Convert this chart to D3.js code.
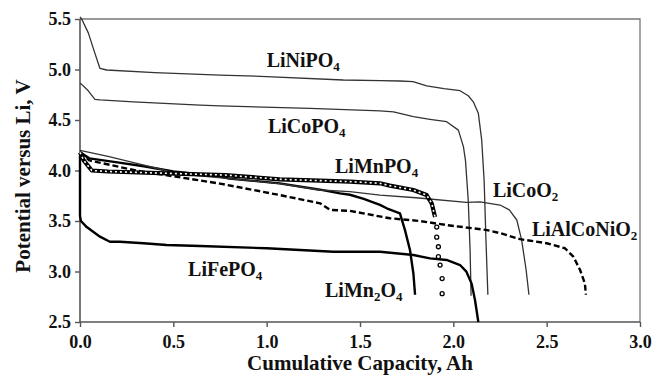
<!DOCTYPE html>
<html>
<head>
<meta charset="utf-8">
<script src="https://cdn.jsdelivr.net/npm/d3@7"></script>
<style>
  body { margin: 0; background: #fff; }
  svg { font-family: 'Liberation Serif', 'Times New Roman', serif; font-weight: bold; }
</style>
</head>
<body>
<div id="chart"></div>
<script>
// discharge curves, capacity (Ah) vs potential (V)
const liNiPO4X = [0, 0.009, 0.045, 0.08, 0.107, 0.143, 0.4, 0.75, 1.0, 1.41, 1.607, 1.714, 1.784, 1.857, 1.95, 2.036, 2.08, 2.107, 2.134, 2.152, 2.165, 2.175, 2.185];
const liNiPO4V = [5.52, 5.5, 5.36, 5.16, 5.01, 4.995, 4.97, 4.945, 4.93, 4.896, 4.89, 4.886, 4.88, 4.837, 4.81, 4.79, 4.74, 4.68, 4.566, 4.30, 3.9, 3.3, 2.77];

const liCoPO4X = [0, 0.005, 0.039, 0.08, 0.107, 0.286, 0.643, 0.75, 1.232, 1.607, 1.68, 1.786, 1.875, 1.964, 2.027, 2.054, 2.065, 2.08, 2.09, 2.095];
const liCoPO4V = [4.86, 4.86, 4.80, 4.705, 4.70, 4.68, 4.648, 4.64, 4.616, 4.59, 4.58, 4.533, 4.507, 4.483, 4.40, 4.236, 4.1, 3.7, 3.2, 2.76];

const liCoO2X = [0, 0.15, 0.26, 0.46, 0.51, 0.8, 1.07, 1.286, 1.446, 1.607, 1.8, 2.07, 2.143, 2.25, 2.30, 2.34, 2.366, 2.39, 2.405];
const liCoO2V = [4.2, 4.14, 4.09, 4.0, 3.97, 3.92, 3.87, 3.807, 3.79, 3.757, 3.73, 3.685, 3.69, 3.658, 3.61, 3.51, 3.31, 3.015, 2.77];

const liMn2O4X = [0, 0.05, 0.2, 0.35, 0.5, 0.75, 0.8, 1.07, 1.286, 1.393, 1.446, 1.52, 1.607, 1.643, 1.714, 1.741, 1.768, 1.786, 1.795];
const liMn2O4V = [4.18, 4.12, 4.08, 4.04, 3.99, 3.94, 3.92, 3.873, 3.81, 3.774, 3.76, 3.72, 3.66, 3.626, 3.576, 3.41, 3.21, 2.98, 2.77];

const liAlCoNiO2X = [0, 0.05, 0.3, 0.51, 0.75, 1.07, 1.286, 1.34, 1.446, 1.66, 1.82, 1.964, 2.18, 2.25, 2.357, 2.5, 2.598, 2.643, 2.679, 2.705, 2.71];
const liAlCoNiO2V = [4.18, 4.1, 4.0, 3.94, 3.87, 3.757, 3.675, 3.61, 3.6, 3.527, 3.5, 3.46, 3.41, 3.38, 3.32, 3.28, 3.23, 3.147, 3.015, 2.88, 2.77];

const liMnPO4X = [0, 0.02, 0.063, 0.15, 0.51, 0.777, 1.07, 1.286, 1.446, 1.607, 1.66, 1.786, 1.857, 1.884, 1.902];
const liMnPO4V = [4.18, 4.1, 4.0, 3.99, 3.97, 3.955, 3.913, 3.90, 3.89, 3.873, 3.85, 3.807, 3.757, 3.675, 3.54];
const liMnPO4DropX = [1.911, 1.911, 1.92, 1.92, 1.929, 1.94, 1.94];
const liMnPO4DropV = [3.44, 3.34, 3.245, 3.147, 3.064, 2.93, 2.78];

const liFePO4X = [0, 0, 0.005, 0.036, 0.107, 0.16, 0.214, 0.34, 0.464, 0.643, 1.0, 1.357, 1.607, 1.786, 1.875, 1.964, 2.036, 2.07, 2.098, 2.116, 2.134];
const liFePO4V = [4.15, 3.55, 3.5, 3.44, 3.345, 3.295, 3.295, 3.28, 3.262, 3.252, 3.23, 3.196, 3.196, 3.163, 3.13, 3.114, 3.064, 2.998, 2.88, 2.718, 2.5];

const xTicks = [0, 0.5, 1.0, 1.5, 2.0, 2.5, 3.0];
const yTicks = [2.5, 3.0, 3.5, 4.0, 4.5, 5.0, 5.5];

// label text parts: [text, isSubscript]
const labelParts = {
  LiNiPO4: [['LiNiPO', 0], ['4', 1]],
  LiCoPO4: [['LiCoPO', 0], ['4', 1]],
  LiMnPO4: [['LiMnPO', 0], ['4', 1]],
  LiCoO2: [['LiCoO', 0], ['2', 1]],
  LiAlCoNiO2: [['LiAlCoNiO', 0], ['2', 1]],
  LiFePO4: [['LiFePO', 0], ['4', 1]],
  LiMn2O4: [['LiMn', 0], ['2', 1], ['O', 0], ['4', 1]]
};
// label anchors, in data units (left, baseline)
const labelAt = {
  LiNiPO4: [1.0, 5.025],
  LiCoPO4: [1.007, 4.371],
  LiMnPO4: [1.366, 3.975],
  LiCoO2: [2.212, 3.738],
  LiAlCoNiO2: [2.421, 3.351],
  LiFePO4: [0.579, 2.955],
  LiMn2O4: [1.3125, 2.748]
};

const width = 653;
const height = 375;
const axesSpace = { left: 80, right: 13, top: 19, bottom: 53 };

const x = d3.scaleLinear()
  .domain([0, 3])
  .range([axesSpace.left, width - axesSpace.right]);
const y = d3.scaleLinear()
  .domain([2.5, 5.5])
  .range([height - axesSpace.bottom, axesSpace.top]);

const svg = d3.select('#chart')
  .append('svg')
  .attr('width', width)
  .attr('height', height);

// frame: top and right edges
svg.append('path')
  .attr('d', `M${x(0)},${y(5.5)}H${x(3)}V${y(2.5)}`)
  .attr('fill', 'none')
  .attr('stroke', '#777')
  .attr('stroke-width', 1.3);

const xAxis = d3.axisBottom(x)
  .tickValues(xTicks)
  .tickSize(5)
  .tickPadding(8)
  .tickFormat(d3.format('.1f'));

const yAxis = d3.axisLeft(y)
  .tickValues(yTicks)
  .tickSize(5)
  .tickPadding(4)
  .tickFormat(d3.format('.1f'));

const styleAxis = g => {
  g.select('.domain').attr('stroke', '#555').attr('stroke-width', 1.6);
  g.selectAll('.tick line').attr('stroke', '#555').attr('stroke-width', 1.4);
  g.selectAll('.tick text')
    .attr('fill', '#111')
    .style('font-size', '18px')
    .style('font-family', "'Liberation Serif', serif")
    .style('font-weight', 'bold');
};

svg.append('g')
  .attr('transform', `translate(0,${y(2.5)})`)
  .call(xAxis)
  .call(g => g.select('.domain').attr('d', `M${x(0)},0H${x(3)}`))
  .call(styleAxis);

svg.append('g')
  .attr('transform', `translate(${x(0)},0)`)
  .call(yAxis)
  .call(g => g.select('.domain').attr('d', `M0,${y(2.5)}V${y(5.5)}`))
  .call(styleAxis);

svg.append('text')
  .attr('x', (x(0) + x(3)) / 2)
  .attr('y', 370)
  .attr('text-anchor', 'middle')
  .style('font-size', '21px')
  .attr('fill', '#111')
  .text('Cumulative Capacity, Ah');

svg.append('text')
  .attr('transform', 'translate(30,176) rotate(-90)')
  .attr('text-anchor', 'middle')
  .style('font-size', '21px')
  .attr('fill', '#111')
  .text('Potential versus Li, V');

const line = d3.line()
  .x(d => x(d[0]))
  .y(d => y(d[1]));

const zip = (xs, vs) => xs.map((v, i) => [v, vs[i]]);

const plot = svg.append('g');

const drawCurve = (xs, vs, stroke, strokeWidth, dash) => plot.append('path')
  .datum(zip(xs, vs))
  .attr('d', line)
  .attr('fill', 'none')
  .attr('stroke', stroke)
  .attr('stroke-width', strokeWidth)
  .attr('stroke-linejoin', 'round')
  .attr('stroke-dasharray', dash || null);

drawCurve(liNiPO4X, liNiPO4V, '#333', 1.3);
drawCurve(liCoPO4X, liCoPO4V, '#333', 1.3);
drawCurve(liFePO4X, liFePO4V, '#000', 2.4);
drawCurve(liMn2O4X, liMn2O4V, '#000', 2.4);
drawCurve(liCoO2X, liCoO2V, '#333', 1.3);
drawCurve(liAlCoNiO2X, liAlCoNiO2V, '#000', 2.4, '6,3');

// LiMnPO4: chain of open markers
drawCurve(liMnPO4X, liMnPO4V, '#000', 4.2);
drawCurve(liMnPO4X, liMnPO4V, '#fff', 1.6, '2,3');

plot.selectAll('circle.drop')
  .data(zip(liMnPO4DropX, liMnPO4DropV))
  .enter()
  .append('circle')
  .attr('class', 'drop')
  .attr('cx', d => x(d[0]))
  .attr('cy', d => y(d[1]))
  .attr('r', 2)
  .attr('fill', '#fff')
  .attr('stroke', '#000')
  .attr('stroke-width', 1.3);

// curve labels
Object.keys(labelParts).forEach(key => {
  const t = svg.append('text')
    .attr('x', x(labelAt[key][0]))
    .attr('y', y(labelAt[key][1]))
    .attr('fill', '#111')
    .style('font-size', '20px');
  let shifted = 0;
  labelParts[key].forEach(([s, sub]) => {
    const dy = sub ? 4 - shifted : -shifted;
    shifted = sub ? 4 : 0;
    t.append('tspan')
      .attr('dy', dy)
      .style('font-size', sub ? '13px' : '20px')
      .text(s);
  });
});
</script>
</body>
</html>
